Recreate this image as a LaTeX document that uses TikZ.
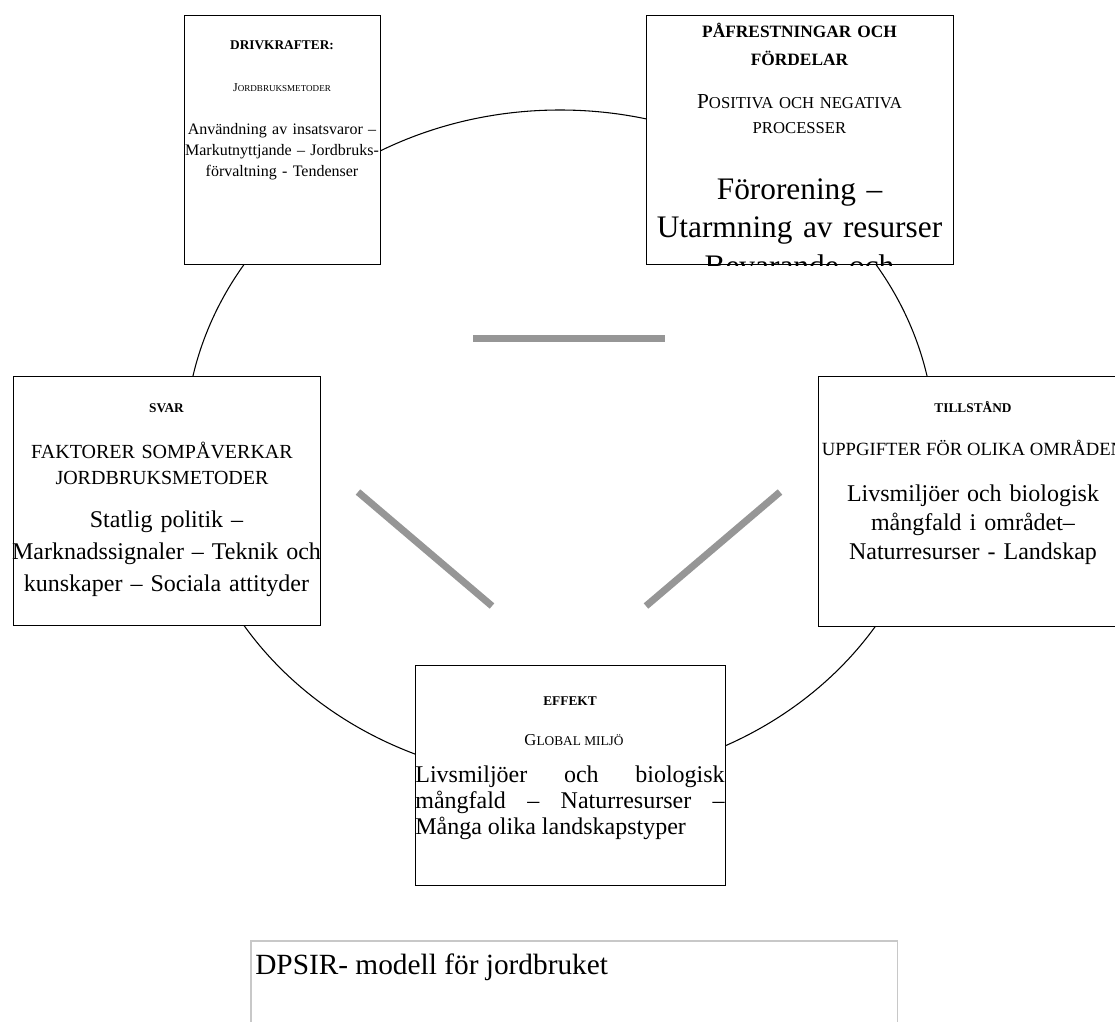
\documentclass[tikz,border=0pt]{standalone}
\usepackage{fontspec}
\setmainfont{Liberation Serif}
\usetikzlibrary{positioning}

\definecolor{bargray}{HTML}{969696}
\definecolor{capgray}{HTML}{C8C8C8}

\newcommand{\fs}[2]{\fontsize{#1}{#2}\selectfont}
\newcommand{\inicap}[2]{{\fs{#1}{#1}#2}}

\begin{document}
\begin{tikzpicture}[x=0.75pt,y=-0.75pt,
  box/.style={draw, line width=1pt, fill=white, anchor=north west, inner sep=0pt},
  capbox/.style={draw=capgray, line width=1.2pt, anchor=north west, inner sep=0pt},
  txt/.style={anchor=base, inner sep=0pt, align=center},
  head/.style={txt, font=\bfseries\fs{10}{20}},
  bar/.style={draw=bargray, line width=5.25pt}]
  \useasboundingbox (0,0) rectangle (1115,1022);
  \clip (0,0) rectangle (1115,1022);

  % ring and triangle
  \draw[line width=0.8pt] (560,445) ellipse [x radius=375, y radius=335];
  \coordinate (t1) at (473,338); \coordinate (t2) at (665,338);
  \coordinate (l1) at (358,492); \coordinate (l2) at (492,606);
  \coordinate (r1) at (780,492); \coordinate (r2) at (646,606);
  \draw[bar] (t1) -- (t2);
  \draw[bar] (l1) -- (l2);
  \draw[bar] (r1) -- (r2);

  % boxes
  \node[box, minimum width=147pt, minimum height=186.75pt] (driv) at (184,15) {};
  \node[box, minimum width=230.25pt, minimum height=186.75pt] (pres) at (646,15) {};
  \node[box, minimum width=230.25pt, minimum height=186.75pt] (svar) at (13,376) {};
  \node[box, minimum width=232.5pt, minimum height=187.5pt] (till) at (818,376) {};
  \node[box, minimum width=232.5pt, minimum height=165pt] (eff) at (415,665) {};

  % drivkrafter
  \node[head] (driv-head) at (282,49) {DRIVKRAFTER:};
  \node[txt, font=\fs{6.8}{12}] (driv-sub) at (282,91) {\inicap{9}{J}ORDBRUKSMETODER};
  \node[txt, text width=170pt, font=\fs{12}{16}] (driv-body) at (282,134)
    {Användning av insatsvaror –\\Markutnyttjande – Jordbruks-\\förvaltning - Tendenser};

  % paafrestningar
  \node[txt, text width=230pt, font=\bfseries\fs{13}{21}] (pres-head) at (799.5,37)
    {PÅFRESTNINGAR OCH\\FÖRDELAR};
  \node[txt, text width=230pt, font=\fs{12.5}{19}] (pres-sub) at (799.5,108)
    {\inicap{16}{P}OSITIVA OCH NEGATIVA\\PROCESSER};
  \begin{scope}
    \clip (pres.north west) rectangle (pres.south east);
    \node[txt, text width=230pt, font=\fs{23.5}{29}] (pres-body) at (799.5,199)
      {Förorening –\\Utarmning av resurser\\Bevarande och};
  \end{scope}

  % svar
  \node[head] (svar-head) at (166.5,412) {SVAR};
  \node[txt, text width=260pt, font=\fs{15}{19.5}] (svar-sub) at (162,458)
    {FAKTORER SOMPÅVERKAR\\JORDBRUKSMETODER};
  \node[txt, text width=260pt, font=\fs{18}{24}] (svar-body) at (166.5,527)
    {Statlig politik –\\Marknadssignaler – Teknik och\\kunskaper – Sociala attityder};

  % tillstaand
  \node[head] (till-head) at (973,412) {TILLSTÅND};
  \node[txt, font=\fs{14}{20}] (till-sub) at (973,455) {UPPGIFTER FÖR OLIKA OMRÅDEN};
  \node[txt, text width=260pt, font=\fs{18}{22}] (till-body) at (973,501)
    {Livsmiljöer och biologisk\\mångfald i området–\\Naturresurser - Landskap};

  % effekt
  \node[head] (eff-head) at (570,705) {EFFEKT};
  \node[txt, font=\fs{10}{20}] (eff-sub) at (574,745) {\inicap{12.5}{G}LOBAL MILJÖ};
  \node[txt, align=justify, text width=232pt, font=\fs{18}{19.5}] (eff-body) at (570,782)
    {\hbadness=10000 Livsmiljöer och biologisk\linebreak mångfald – Naturresurser –\linebreak Många olika landskapstyper};

  % caption
  \node[capbox, minimum width=485pt, minimum height=67.5pt] (caption) at (250,940) {};
  \node[anchor=base west, inner sep=0pt, font=\fs{22}{26}] (caption-text) at (255,974)
    {DPSIR- modell för jordbruket};
\end{tikzpicture}
\end{document}
